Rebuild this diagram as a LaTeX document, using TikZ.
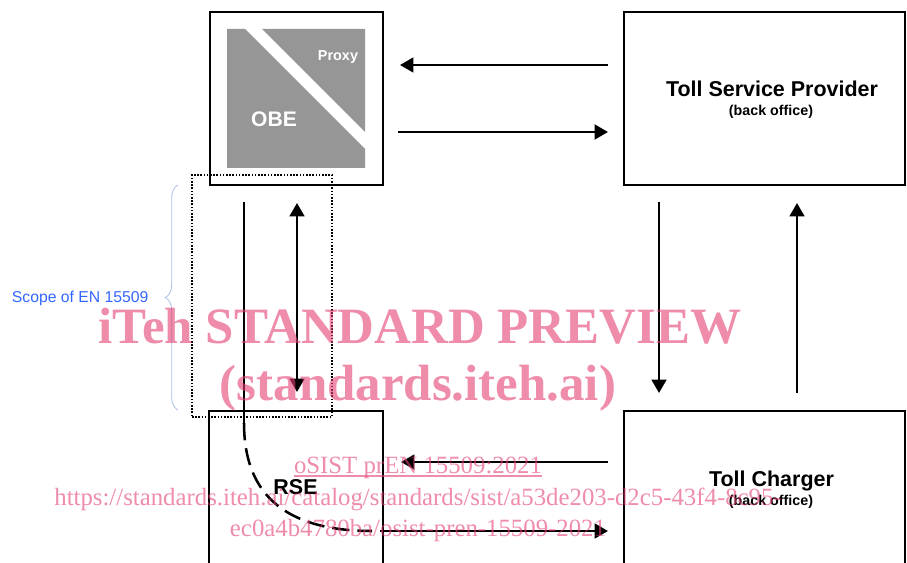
\documentclass[tikz,border=0pt]{standalone}
\usepackage{fontspec}
\setmainfont{Liberation Serif}
\setsansfont{Liberation Sans}
\usetikzlibrary{arrows.meta,fit,decorations.pathreplacing,calc}

\definecolor{obegray}{RGB}{150,150,150}
\definecolor{scopeblue}{RGB}{51,102,255}
\definecolor{bracebl}{RGB}{170,190,230}
\definecolor{wmark}{RGB}{227,63,113}

\begin{document}
\begin{tikzpicture}[x=0.75pt,y=-0.75pt,
  box/.style={draw=black, line width=1.1pt, inner sep=0pt},
  flow/.style={line width=1.9pt, -{Triangle[length=10pt,width=11pt]}},
  twoway/.style={line width=1.9pt, {Triangle[length=10pt,width=11pt]}-{Triangle[length=10pt,width=11pt]}},
  title/.style={font=\sffamily\bfseries\fontsize{16.1}{18}\selectfont, anchor=base, inner sep=0pt},
  sub/.style={font=\sffamily\bfseries\fontsize{10.7}{12}\selectfont, anchor=base, inner sep=0pt},
  wm/.style={text=wmark, text opacity=0.6, anchor=base, inner sep=0pt},
  wmbig/.style={wm, font=\rmfamily\bfseries\fontsize{38.2}{40}\selectfont},
  wmsmall/.style={wm, font=\rmfamily\fontsize{18.6}{20}\selectfont},
]
\useasboundingbox (0,0) rectangle (907,563);
\clip (0,0) rectangle (907,563);

% the four units
\node[box, fit={(210,12) (383,185)}] (obe) {};
\node[box, fit={(624,12) (905,185)}] (tsp) {};
\node[box, fit={(209,411) (383,600)}] (rse) {};
\node[box, fit={(624,411) (905,600)}] (tc) {};

% OBE / Proxy emblem
\fill[obegray] (227,29) -- (245,29) -- (365,149) -- (365,168) -- (227,168) -- cycle;
\fill[obegray] (262,29) -- (365,29) -- (365,132) -- cycle;
\node[font=\sffamily\bfseries\fontsize{10.8}{12}\selectfont, text=white, anchor=base, inner sep=0pt] (proxy) at (338,61) {Proxy};
\node[font=\sffamily\bfseries\fontsize{15.8}{18}\selectfont, text=white, anchor=base, inner sep=0pt] (obelbl) at (274,127) {OBE};

% unit labels
\node[title] (tsptitle) at (772,97) {Toll Service Provider};
\node[sub] (tspsub) at (771,115.5) {(back office)};
\node[title] (tctitle) at (771.5,486) {Toll Charger};
\node[sub] (tcsub) at (771,505) {(back office)};
\node[title] (rselbl) at (295.5,494) {RSE};

% arrow end points
\coordinate (a1s) at (608,65);  \coordinate (a1e) at (400,65);
\coordinate (a2s) at (398,132); \coordinate (a2e) at (608,132);
\coordinate (a3s) at (659,202); \coordinate (a3e) at (659,393);
\coordinate (a4s) at (797,393); \coordinate (a4e) at (797,203);
\coordinate (a5s) at (608,462); \coordinate (a5e) at (401,462);
\coordinate (a6s) at (380,531); \coordinate (a6e) at (608,531);
\coordinate (a7s) at (297,203); \coordinate (a7e) at (297,392);
\coordinate (l1s) at (244,202); \coordinate (l1e) at (244,423);
\coordinate (d1e) at (372,531);

% data flows
\draw[flow] (a1s) -- (a1e);
\draw[flow] (a2s) -- (a2e);
\draw[flow] (a3s) -- (a3e);
\draw[flow] (a4s) -- (a4e);
\draw[flow] (a5s) -- (a5e);
\draw[flow] (a6s) -- (a6e);
\draw[twoway] (a7s) -- (a7e);
\draw[line width=1.9pt] (l1s) -- (l1e);
\draw[line width=1.9pt, dash pattern=on 13pt off 6pt] (l1e) .. controls (244,480) and (270,531) .. (d1e);

% scope of the standard
\node[draw=black, line width=0.9pt, dash pattern=on 1.2pt off 1.2pt, inner sep=0pt, fit={(192,175) (332,417)}] (scope) {};
\coordinate (brbot) at (178,410);
\coordinate (brtop) at (178,185);
\draw[bracebl, line width=0.6pt, decorate, decoration={brace, amplitude=9.5pt}] (brbot) -- (brtop);
\node[font=\sffamily\fontsize{11.8}{13}\selectfont, text=scopeblue, anchor=base west, inner sep=0pt] (scopelbl) at (11.7,302) {Scope of EN 15509};

% preview stamp
\node[wmbig] (wm1) at (420,343) {iTeh STANDARD PREVIEW};
\node[wmbig] (wm2) at (418,400) {(standards.iteh.ai)};
\node[wmsmall] (wm3) at (418,473) {oSIST prEN 15509:2021};
\draw[wmark, opacity=0.6, line width=0.8pt] ($(wm3.base west)+(0,3)$) -- ($(wm3.base east)+(0,3)$);
\node[wmsmall] (wm4) at (418,505) {https://standards.iteh.ai/catalog/standards/sist/a53de203-d2c5-43f4-8c95-};
\node[wmsmall] (wm5) at (418,536) {ec0a4b4780ba/osist-pren-15509-2021};
\end{tikzpicture}
\end{document}
